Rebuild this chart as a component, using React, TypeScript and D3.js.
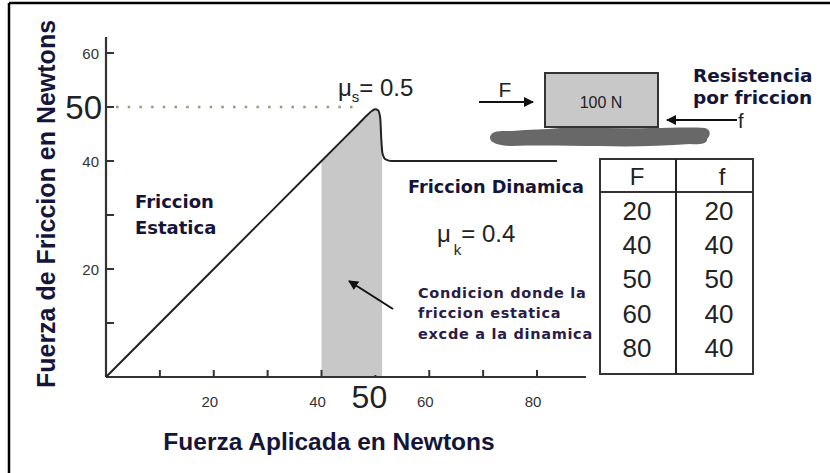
import React from 'react';
import * as d3 from 'd3';

// friction curve (applied force F vs friction force f)
const curveF = [0, 20, 40, 47, 48.5, 49.4, 50.0, 50.5, 50.9, 51.1, 51.3, 51.9, 53, 83.7];
const curveFric = [0, 20, 40, 47, 48.5, 49.3, 49.6, 49.4, 48, 44, 41.5, 40.3, 40, 40];

const xTicks = [10, 20, 30, 40, 50, 60, 70, 80];
const xLabels = [20, 40, 60, 80];
const yTicks = [10, 20, 30, 40, 50, 60];
const yLabels = [20, 40, 60];

// table of values
const tableF = [20, 40, 50, 60, 80];
const tableFric = [20, 40, 50, 40, 40];

const shadeFrom = 40;
const shadeTo = 51.25;

const W = 830;
const H = 473;
const LABEL = 'DejaVu Sans, Verdana, sans-serif';
const ARIAL = 'Liberation Sans, Arial, Helvetica, sans-serif';
const INK = '#15153a';

const App = () => {
  const x = d3.scaleLinear().domain([0, 80]).range([106, 537]);
  const y = d3.scaleLinear().domain([0, 60]).range([377, 53]);

  const pts = curveF.map((F, i) => ({ F, f: curveFric[i] }));
  const line = d3.line<any>().x(d => x(d.F)).y(d => y(d.f)).curve(d3.curveMonotoneX);
  const area = d3.area<any>().x(d => x(d.F)).y0(y(0)).y1(d => y(d.f)).curve(d3.curveMonotoneX);

  const axisX = x(0);
  const axisY = y(0);

  // table layout
  const tLeft = 600, tRight = 753, tTop = 159, tHead = 192, tBottom = 374, tMid = 676;
  const col1 = 637, col2 = 719;

  return (
    <svg width={W} height={H} style={{ position: 'absolute', left: 0, top: 0, background: '#fff' }}>
      <defs>
        <clipPath id="shade">
          <rect x={x(shadeFrom)} y={0} width={x(shadeTo) - x(shadeFrom)} height={H} />
        </clipPath>
        <marker id="ah" viewBox="0 0 10 10" refX="9" refY="5" markerWidth="5" markerHeight="5" orient="auto-start-reverse">
          <path d="M0,0 L10,5 L0,10 z" fill="#111" />
        </marker>
      </defs>

      {/* frame */}
      <line x1={9} y1={3} x2={W} y2={3} stroke="#000" strokeWidth={2.5} />
      <line x1={9} y1={3} x2={9} y2={H} stroke="#000" strokeWidth={2.5} />

      {/* shaded region */}
      <path d={area(pts) || ''} fill="#c8c8c8" clipPath="url(#shade)" />

      {/* dotted 50 line */}
      <line x1={axisX + 10} y1={y(50)} x2={353} y2={y(50)} stroke="#9a9a7a" strokeWidth={2.5}
        strokeDasharray="2.5 9.2" />

      {/* axes */}
      <line x1={axisX} y1={37} x2={axisX} y2={axisY} stroke="#333" strokeWidth={2.2} />
      <line x1={axisX} y1={axisY} x2={586} y2={axisY} stroke="#333" strokeWidth={2.2} />
      {yTicks.map(v => (
        <line key={'yt' + v} x1={axisX} x2={axisX + 8} y1={y(v)} y2={y(v)} stroke="#333" strokeWidth={2} />
      ))}
      {xTicks.map(v => (
        <line key={'xt' + v} x1={x(v)} x2={x(v)} y1={axisY} y2={axisY - (v === 50 ? 2 : 7)} stroke="#333" strokeWidth={2} />
      ))}
      {yLabels.map(v => (
        <text key={'yl' + v} x={99} y={y(v) + 6} textAnchor="end" fontFamily={ARIAL} fontSize={15} fill="#333">{v}</text>
      ))}
      <text x={102} y={y(50) + 12} textAnchor="end" fontFamily={ARIAL} fontSize={33} fill="#222">50</text>
      {xLabels.map(v => (
        <text key={'xl' + v} x={x(v) - 4} y={407} textAnchor="middle" fontFamily={ARIAL} fontSize={15} fill="#333">{v}</text>
      ))}
      <text x={x(50) - 6} y={408} textAnchor="middle" fontFamily={ARIAL} fontSize={32} fill="#222">50</text>

      {/* friction curve */}
      <path d={line(pts) || ''} fill="none" stroke="#222" strokeWidth={2} />

      {/* axis titles */}
      <text x={329} y={450} textAnchor="middle" fontFamily={ARIAL} fontWeight="bold" fontSize={24.5} fill={INK}>
        Fuerza Aplicada en Newtons
      </text>
      <text transform="translate(55,204) rotate(-90)" textAnchor="middle" fontFamily={ARIAL} fontWeight="bold"
        fontSize={25} fill={INK}>
        Fuerza de Friccion en Newtons
      </text>

      {/* coefficients */}
      <text x={338} y={96} fontFamily={ARIAL} fontSize={24} fill="#222">
        μ<tspan fontSize={15} dy={6}>s</tspan><tspan dy={-6}>= 0.5</tspan>
      </text>
      <text x={437} y={242} fontFamily={ARIAL} fontSize={24} fill="#222">
        μ<tspan fontSize={15} dy={13} dx={3}>k</tspan><tspan dy={-13}>= 0.4</tspan>
      </text>

      {/* region labels */}
      <text fontFamily={LABEL} fontWeight="bold" fontSize={18} fill={INK}>
        <tspan x={135} y={208}>Friccion</tspan>
        <tspan x={135} y={234}>Estatica</tspan>
      </text>
      <text x={408} y={193} fontFamily={LABEL} fontWeight="bold" fontSize={17.7} fill={INK}>Friccion Dinamica</text>
      <text fontFamily={LABEL} fontWeight="bold" fontSize={14.5} letterSpacing={0.7} fill="#2a1c48">
        <tspan x={418} y={298}>Condicion donde la</tspan>
        <tspan x={418} y={318}>friccion estatica</tspan>
        <tspan x={418} y={339}>excde a la dinamica</tspan>
      </text>
      <line x1={393} y1={309} x2={349} y2={281} stroke="#111" strokeWidth={2} markerEnd="url(#ah)" />

      {/* block diagram */}
      <path d="M490,137 C492,130 500,131 512,131 C530,129 545,130 560,128 C590,127 620,129 650,128 C670,128 690,127 705,128 C712,130 710,136 707,139 C708,143 700,145 690,144 C660,146 630,147 600,146 C570,146 540,145 512,146 C500,146 489,143 490,137 z"
        fill="#686868" />
      <rect x={545} y={73} width={113} height={54} fill="#c8c8c8" stroke="#333" strokeWidth={2} />
      <text x={601} y={108} textAnchor="middle" fontFamily={ARIAL} fontSize={16} fill="#222">100 N</text>
      <line x1={479} y1={102} x2={533} y2={102} stroke="#111" strokeWidth={2} markerEnd="url(#ah)" />
      <text x={505} y={97} textAnchor="middle" fontFamily={ARIAL} fontSize={21} fill="#222">F</text>
      <line x1={737} y1={120} x2={667} y2={120} stroke="#111" strokeWidth={2} markerEnd="url(#ah)" />
      <text fontFamily={LABEL} fontWeight="bold" fontSize={18.5} fill={INK}>
        <tspan x={693} y={82}>Resistencia</tspan>
        <tspan x={693} y={104}>por friccion</tspan>
      </text>
      <text x={738} y={128} fontFamily={ARIAL} fontSize={20} fill="#222">f</text>

      {/* table */}
      <rect x={tLeft} y={tTop} width={tRight - tLeft} height={tBottom - tTop} fill="none" stroke="#333" strokeWidth={2} />
      <line x1={tLeft} x2={tRight} y1={tHead} y2={tHead} stroke="#333" strokeWidth={2} />
      <line x1={tMid} x2={tMid} y1={tTop} y2={tBottom} stroke="#222" strokeWidth={2} />
      <text x={col1} y={185} textAnchor="middle" fontFamily={ARIAL} fontSize={24} fill="#222">F</text>
      <text x={col2 + 3} y={185} textAnchor="middle" fontFamily={ARIAL} fontSize={24} fill="#222">f</text>
      {tableF.map((v, i) => (
        <text key={'tf' + i} x={col1} y={220 + i * 34.2} textAnchor="middle" fontFamily={ARIAL} fontSize={26} fill="#222">{v}</text>
      ))}
      {tableFric.map((v, i) => (
        <text key={'tfr' + i} x={col2} y={220 + i * 34.2} textAnchor="middle" fontFamily={ARIAL} fontSize={26} fill="#222">{v}</text>
      ))}
    </svg>
  );
};

export default App;
